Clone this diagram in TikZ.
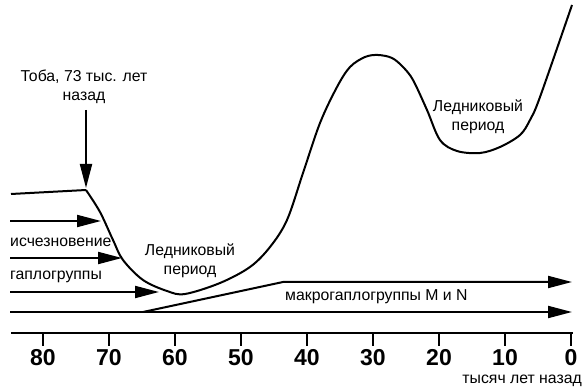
\documentclass[tikz,border=0pt]{standalone}
\usepackage{fontspec}
\setmainfont{Liberation Sans}
\usetikzlibrary{arrows.meta}
\begin{document}
\begin{tikzpicture}[x=1pt,y=-1pt,
  line/.style={line width=2pt},
  arr/.style={line width=2pt,-{Triangle[length=24pt,width=12pt]}},
  lbl/.style={font=\fontsize{15.8pt}{19pt}\selectfont,inner sep=0pt},
  tick/.style={line width=1.2pt},
  num/.style={font=\fontsize{23pt}{26pt}\selectfont\bfseries,inner sep=0pt}]
\useasboundingbox (0,0) rectangle (584,390);
% curve
\draw[line, line join=round] (11,194) -- (86,190)
  plot[smooth,tension=0.55] coordinates {(86,190) (100,212) (113,240) (123,260) (143,280) (167,291) (185,294) (220,283) (250,267) (270,247) (287,220) (303,173) (320,123) (337,87) (350,67) (365,57) (378,55) (392,58) (403,67) (413,80) (427,110) (440,140) (457,151) (480,153) (500,147) (520,135) (530,120) (540,97) (572,5)};
% Toba arrow
\node[lbl,align=center] (toba) at (84,87) {Тоба, 73 тыс. лет\\назад};
\coordinate (tobaEnd) at (86,188);
\draw[arr] (86,110) -- (tobaEnd);
% left arrows
\coordinate (a1s) at (10,221); \coordinate (a1e) at (101,221);
\coordinate (a2s) at (10,258); \coordinate (a2e) at (122,258);
\coordinate (a3s) at (10,292); \coordinate (a3e) at (159,292);
\draw[arr] (a1s) -- (a1e);
\draw[arr] (a2s) -- (a2e);
\draw[arr] (a3s) -- (a3e);
% long arrows
\coordinate (b1s) at (10,312); \coordinate (b1e) at (572,312);
\draw[arr] (b1s) -- (b1e);
\coordinate (m0) at (143,312); \coordinate (m1) at (283,282); \coordinate (m2) at (572,282);
\draw[arr] (m0) -- (m1) -- (m2);
% labels
\node[lbl,anchor=west] (isch) at (10,242) {исчезновение};
\node[lbl,anchor=west] (gapl) at (10,277) {гаплогруппы};
\node[lbl,align=center] (led1) at (190,261) {Ледниковый\\период};
\node[lbl,align=center] (led2) at (478,117) {Ледниковый\\период};
\node[lbl,anchor=west] (makro) at (285,297) {макрогаплогруппы M и N};
% axis
\coordinate (ax0) at (11,333); \coordinate (ax1) at (573,333);
\draw[line] (ax0) -- (ax1);
\foreach \k in {0,10,...,80} {
  \draw[tick] ({571-6.6*\k},333) -- ({571-6.6*\k},346);
  \node[num] at ({571-6.6*\k},358) {\k};
}
\node[lbl,anchor=east] (unit) at (582,381) {тысяч лет назад};
\end{tikzpicture}
\end{document}
